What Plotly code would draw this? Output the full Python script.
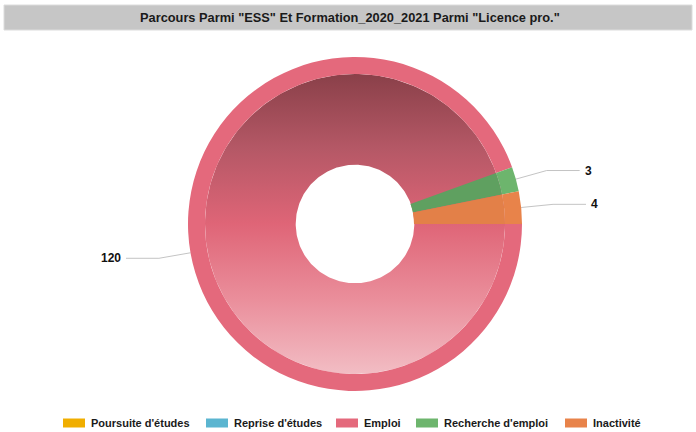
import math
import numpy as np
import plotly.graph_objects as go

# ---- data ----
title_text = 'Parcours Parmi "ESS" Et Formation_2020_2021 Parmi "Licence pro."'
categories = ["Poursuite d'études", "Reprise d'études", "Emploi", "Recherche d'emploi", "Inactivité"]
values = [0, 0, 120, 3, 4]

# ---- styles ----
rim_colors = ["#F0AE00", "#5BB5D0", "#E4697C", "#6DB56D", "#E8834A"]
inner_colors = ["#E0A200", "#52A8C2", "rgba(0,0,0,0)", "#5FA060", "#E38048"]
grad_scale = [[0, "#F2BDC4"], [0.25, "#EA8E9B"], [0.5, "#DF6577"], [0.75, "#B55866"], [1, "#8A4049"]]
FONT = "Liberation Sans, Arial, sans-serif"

W, H = 696, 432
CX, CY_PX = 355.0, 224.0
CY = H - CY_PX
R_OUT, R_IN, R_HOLE = 167.0, 150.0, 59.0


def domain(r):
    return dict(x=[(CX - r) / W, (CX + r) / W], y=[(CY - r) / H, (CY + r) / H])


fig = go.Figure()

# gradient ring (background under the inner pie)
t = np.linspace(0, 2 * math.pi, 241)
ox = CX + R_IN * np.cos(t)
oy = CY + R_IN * np.sin(t)
ix = CX + (R_HOLE + 0.3) * np.cos(t[::-1])
iy = CY + (R_HOLE + 0.3) * np.sin(t[::-1])
fig.add_trace(go.Scatter(
    x=np.concatenate([ox, ix, ox[:1]]), y=np.concatenate([oy, iy, oy[:1]]),
    mode="lines", line=dict(width=0), fill="toself",
    fillgradient=dict(type="vertical", colorscale=grad_scale, start=CY - R_IN, stop=CY + R_IN),
    hoverinfo="skip", showlegend=False,
))

# outer rim pie
fig.add_trace(go.Pie(
    labels=categories, values=values, sort=False, direction="clockwise", rotation=90,
    hole=R_IN / R_OUT, domain=domain(R_OUT), textinfo="none",
    marker=dict(colors=rim_colors, line=dict(width=0)), showlegend=False,
))
# inner pie
fig.add_trace(go.Pie(
    labels=categories, values=values, sort=False, direction="clockwise", rotation=90,
    hole=R_HOLE / R_IN, domain=domain(R_IN), textinfo="none",
    marker=dict(colors=inner_colors, line=dict(width=0)), showlegend=False,
))

# leader lines + value labels, computed from the values
total = sum(values)
cum = 0.0
annotations = []
for v in values:
    if v > 0:
        mid = -(cum + v / 2) / total * 2 * math.pi
        c, s = math.cos(mid), math.sin(mid)
        ex, ey = CX + R_OUT * c, CY + R_OUT * s
        kx, ky = CX + (R_OUT + 32) * c, CY + (R_OUT + 32) * s
        side = 1 if c >= 0 else -1
        hx = kx + side * 33
        fig.add_trace(go.Scatter(x=[ex, kx, hx], y=[ey, ky, ky], mode="lines",
                                 line=dict(color="#C4C4C4", width=1),
                                 hoverinfo="skip", showlegend=False))
        annotations.append(dict(x=hx + side * 3, y=ky, xref="x", yref="y", text=str(v),
                                showarrow=False, xanchor="left" if side > 0 else "right",
                                font=dict(family=FONT, size=12, color="#111111", weight="bold")))
    cum += v

# title bar
shapes = [dict(type="rect", xref="x", yref="y", x0=4, x1=692, y0=H - 30, y1=H - 5,
               fillcolor="#C6C6C6", line=dict(color="#DCDCDC", width=1), layer="below")]
annotations.append(dict(x=350, y=H - 17.5, xref="x", yref="y", text=title_text, showarrow=False,
                        font=dict(family=FONT, size=12.8, color="#1A1A1A", weight="bold")))

# legend (manual)
leg_x = [63, 206, 336, 416, 565]
for i, cat in enumerate(categories):
    shapes.append(dict(type="rect", xref="x", yref="y", x0=leg_x[i], x1=leg_x[i] + 22,
                       y0=H - 427.5, y1=H - 418.5, fillcolor=rim_colors[i], line=dict(width=0)))
    annotations.append(dict(x=leg_x[i] + 26, y=H - 423, xref="x", yref="y", text=cat,
                            showarrow=False, xanchor="left",
                            font=dict(family=FONT, size=11, color="#1A1A1A", weight="bold")))

fig.update_layout(
    width=W, height=H, margin=dict(l=0, r=0, t=0, b=0, pad=0),
    paper_bgcolor="white", plot_bgcolor="rgba(0,0,0,0)",
    xaxis=dict(range=[0, W], visible=False, fixedrange=True, domain=[0, 1]),
    yaxis=dict(range=[0, H], visible=False, fixedrange=True, domain=[0, 1]),
    shapes=shapes, annotations=annotations, showlegend=False,
)

fig.write_html("out.html", config={"displayModeBar": False},
               post_script="document.body.style.margin='0';document.body.style.overflow='hidden';")
